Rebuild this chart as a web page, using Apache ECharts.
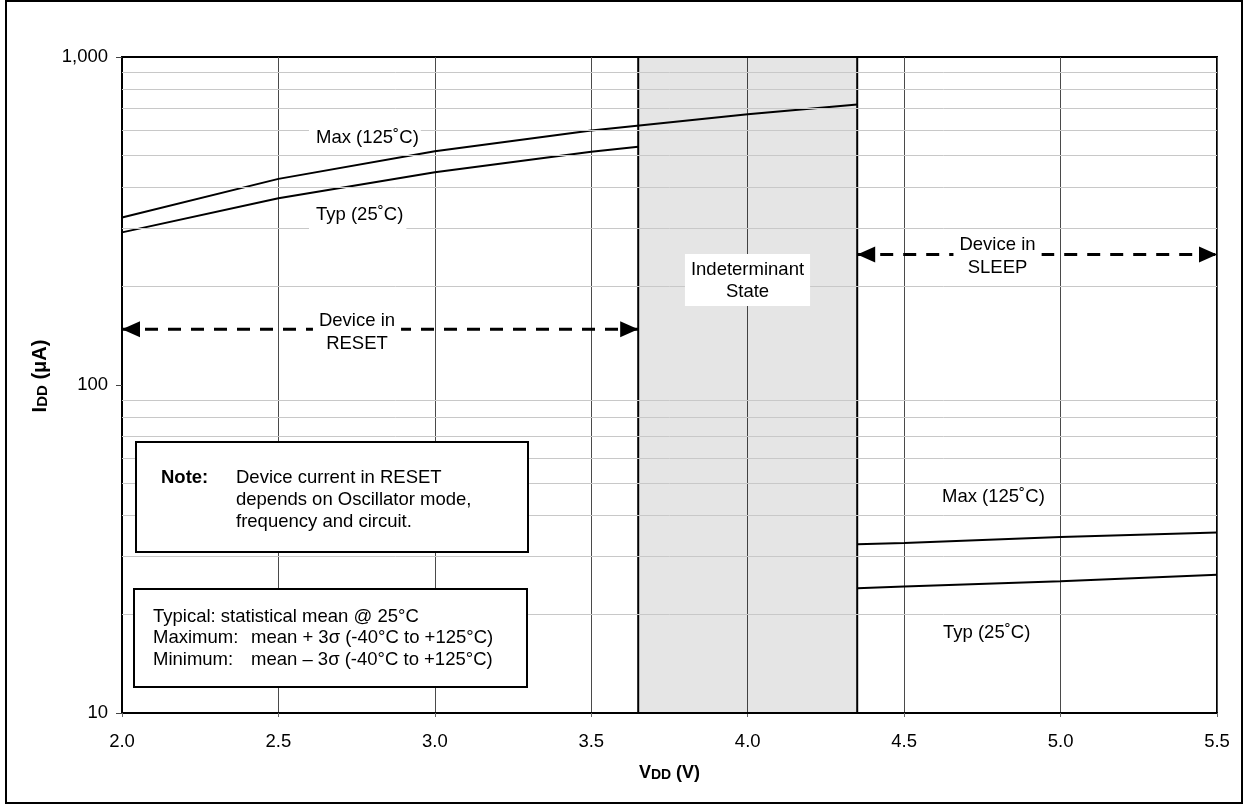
<!DOCTYPE html>
<html>
<head>
<meta charset="utf-8">
<title>IDD vs VDD</title>
<script src="https://cdn.jsdelivr.net/npm/echarts@6/dist/echarts.min.js"></script>
<style>
  html, body { margin: 0; padding: 0; background: #fff; }
  #chart { width: 1246px; height: 806px; }
</style>
</head>
<body>
<div id="chart"></div>
<script>
// data
var resetVdd = [2.0, 2.5, 3.0, 3.5, 4.0, 4.35];
var resetMax = [324, 425, 516, 597, 669, 716];
var resetTypVdd = [2.0, 2.5, 3.0, 3.5, 3.65];
var resetTyp = [292, 371, 445, 514, 533];
var sleepVdd = [4.35, 4.5, 5.0, 5.5];
var sleepMax = [32.7, 33.0, 34.4, 35.5];
var sleepTyp = [24.0, 24.3, 25.2, 26.4];
var indeterminateSpan = [3.65, 4.35];
var resetSpan = [2.0, 3.65];
var sleepSpan = [4.35, 5.5];
var resetArrowLevel = 148;
var sleepArrowLevel = 250;
var yTicks = [10, 100, 1000];
var yTickLabels = ["10", "100", "1,000"];
var yMinor = [20, 30, 40, 50, 60, 70, 80, 90, 200, 300, 400, 500, 600, 700, 800, 900];

var FONT = "'Liberation Sans', Arial, sans-serif";
var FS = 18.5;

function pairs(xs, ys) {
  return xs.map(function (x, i) { return [x, ys[i]]; });
}

function txt(x, y, text, extra) {
  var style = {
    x: x, y: y, text: text,
    font: FS + "px " + FONT, fill: "#000",
    textAlign: "left", textVerticalAlign: "middle"
  };
  for (var k in extra) style[k] = extra[k];
  return { type: "text", z: 100, style: style };
}

function arrowHeads(span, level) {
  return {
    type: "scatter",
    z: 5,
    clip: false,
    silent: true,
    symbol: "triangle",
    symbolSize: [16, 18],
    itemStyle: { color: "#000", opacity: 1 },
    data: [
      { value: [span[0], level], symbolRotate: 90, symbolOffset: [9, 0] },
      { value: [span[1], level], symbolRotate: -90, symbolOffset: [-9, 0] }
    ]
  };
}

function dashed(span, level) {
  return {
    type: "line",
    z: 4,
    clip: false,
    silent: true,
    symbol: "none",
    lineStyle: { color: "#000", width: 3, type: [13, 10] },
    data: [[span[0], level], [span[1], level]]
  };
}

function curve(xs, ys) {
  return {
    type: "line",
    z: 3,
    clip: false,
    silent: true,
    symbol: "none",
    lineStyle: { color: "#000", width: 2 },
    data: pairs(xs, ys)
  };
}

var chart = echarts.init(document.getElementById("chart"));

var option = {
  animation: false,
  backgroundColor: "#fff",
  textStyle: { fontFamily: FONT },
  grid: {
    left: 122, right: 29, top: 57, bottom: 93,
    show: true, borderColor: "#000", borderWidth: 2
  },
  xAxis: {
    type: "value",
    min: 2.0, max: 5.5, interval: 0.5,
    name: "{a|V}{b|DD}{a| (V)}",
    nameLocation: "middle",
    nameGap: 51,
    nameTextStyle: {
      rich: {
        a: { fontSize: 18, fontWeight: "bold", color: "#000", fontFamily: FONT, lineHeight: 18, verticalAlign: "bottom" },
        b: { fontSize: 14, fontWeight: "bold", color: "#000", fontFamily: FONT, lineHeight: 14, verticalAlign: "bottom" }
      }
    },
    axisLine: { show: true, lineStyle: { color: "#000", width: 2 } },
    axisTick: { show: true, length: 4, lineStyle: { color: "#666" } },
    axisLabel: {
      margin: 19, fontSize: FS, color: "#000", fontFamily: FONT,
      formatter: function (v) { return v.toFixed(1); }
    },
    splitLine: { show: true, lineStyle: { color: "#4a4a4a", width: 1 } }
  },
  yAxis: {
    type: "log",
    logBase: 10,
    min: yTicks[0], max: yTicks[yTicks.length - 1],
    name: "{a|I}{b|DD}{a| (μA)}",
    nameLocation: "middle",
    nameRotate: 90,
    nameGap: 72,
    nameTextStyle: {
      padding: [0, 0, 0, 18],
      rich: {
        a: { fontSize: 20, fontWeight: "bold", color: "#000", fontFamily: FONT, lineHeight: 20, verticalAlign: "bottom" },
        b: { fontSize: 15, fontWeight: "bold", color: "#000", fontFamily: FONT, lineHeight: 15, verticalAlign: "bottom" }
      }
    },
    axisLine: { show: true, lineStyle: { color: "#000", width: 2 } },
    axisTick: { show: true, length: 6, lineStyle: { color: "#444" } },
    axisLabel: {
      margin: 14, fontSize: FS, color: "#000", fontFamily: FONT,
      formatter: function (v) {
        var i = yTicks.indexOf(Math.round(v));
        return i >= 0 ? yTickLabels[i] : "";
      }
    },
    splitLine: { show: false }
  },
  series: [
    {
      // minor horizontal gridlines
      type: "line",
      z: -1,
      silent: true,
      data: [],
      markLine: {
        silent: true,
        symbol: "none",
        label: { show: false },
        lineStyle: { color: "#c8c8c8", width: 1, type: "solid" },
        data: yMinor.map(function (v) { return { yAxis: v }; })
      }
    },
    {
      // indeterminant state band
      type: "line",
      z: 2,
      silent: true,
      data: [],
      markArea: {
        silent: true,
        itemStyle: { color: "rgba(0,0,0,0.1)", borderColor: "#000", borderWidth: 2 },
        data: [[{ xAxis: indeterminateSpan[0] }, { xAxis: indeterminateSpan[1] }]]
      }
    },
    curve(resetVdd, resetMax),
    curve(resetTypVdd, resetTyp),
    curve(sleepVdd, sleepMax),
    curve(sleepVdd, sleepTyp),
    dashed(resetSpan, resetArrowLevel),
    dashed(sleepSpan, sleepArrowLevel),
    arrowHeads(resetSpan, resetArrowLevel),
    arrowHeads(sleepSpan, sleepArrowLevel)
  ],
  graphic: [
    // outer frame
    { type: "rect", z: 100, shape: { x: 6, y: 1, width: 1236, height: 802 },
      style: { fill: "none", stroke: "#000", lineWidth: 2 } },

    // curve labels
    txt(309, 137.7, "Max (125˚C)", { backgroundColor: "#fff", padding: [4, 2, 4, 7] }),
    txt(309, 215.4, "Typ (25˚C)", { backgroundColor: "#fff", padding: [7, 3, 7, 7] }),
    txt(942, 497, "Max (125˚C)"),
    txt(943, 633, "Typ (25˚C)"),

    // region labels
    txt(747.5, 254, "Indeterminant\nState", {
      textAlign: "center", textVerticalAlign: "top", lineHeight: 22,
      backgroundColor: "#fff", padding: [5, 6, 3, 6]
    }),
    txt(357, 307.5, "Device in\nRESET", {
      textAlign: "center", textVerticalAlign: "top", lineHeight: 23,
      backgroundColor: "#fff", padding: [2, 6, 2, 6]
    }),
    txt(997.5, 233.5, "Device in\nSLEEP", {
      textAlign: "center", textVerticalAlign: "top", lineHeight: 23,
      backgroundColor: "#fff", padding: [0, 6, 2, 6]
    }),

    // note box
    { type: "rect", z: 99, shape: { x: 136, y: 442, width: 392, height: 110 },
      style: { fill: "#fff", stroke: "#000", lineWidth: 2 } },
    txt(161, 478, "Note:", { font: "bold " + FS + "px " + FONT }),
    txt(236, 478, "Device current in RESET"),
    txt(236, 500, "depends on Oscillator mode,"),
    txt(236, 521.5, "frequency and circuit."),

    // statistics box
    { type: "rect", z: 99, shape: { x: 134, y: 589, width: 393, height: 98 },
      style: { fill: "#fff", stroke: "#000", lineWidth: 2 } },
    txt(153, 617, "Typical: statistical mean @ 25°C"),
    txt(153, 638, "Maximum:"),
    txt(251, 638, "mean + 3σ (-40°C to +125°C)"),
    txt(153, 659.5, "Minimum:"),
    txt(251, 659.5, "mean – 3σ (-40°C to +125°C)")
  ]
};

chart.setOption(option);
</script>
</body>
</html>
